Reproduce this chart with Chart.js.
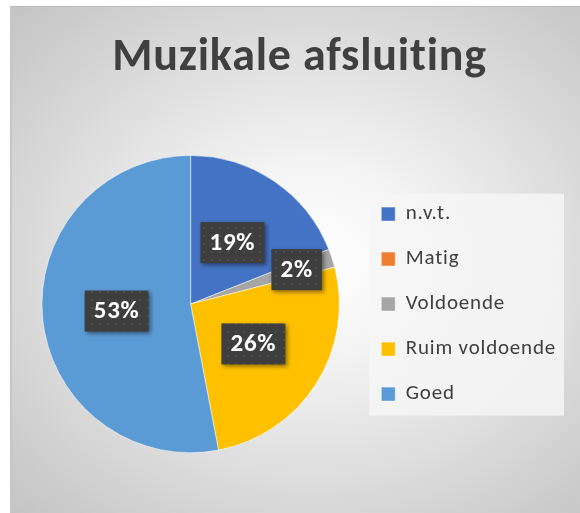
<!DOCTYPE html>
<html>
<head>
<meta charset="utf-8">
<script src="https://cdn.jsdelivr.net/npm/chart.js@4.4.1/dist/chart.umd.min.js"></script>
<style>
  html, body { margin: 0; padding: 0; background: #fff; overflow: hidden; }
  #wrap { position: relative; width: 580px; height: 513px; }
  #panel {
    position: absolute; left: 10px; top: 6px; width: 580px; height: 507px;
    box-sizing: border-box;
    border-top: 1px solid #bdbdbd; border-left: 2px solid #c6c6c6;
    background: radial-gradient(ellipse farthest-corner at 52% 50%, #ffffff 0%, #f5f5f5 25%, #d2d2d2 78%, #c4c4c4 100%);
  }
  #chart { position: absolute; left: 0; top: 0; }
</style>
</head>
<body>
<div id="wrap">
  <div id="panel"></div>
  <canvas id="chart" width="580" height="513"></canvas>
</div>
<script>
const chartTitle = 'Muzikale afsluiting';
const categories = ['n.v.t.', 'Matig', 'Voldoende', 'Ruim voldoende', 'Goed'];
const values = [19, 0, 2, 26, 53];
const colors = ['#4472C4', '#ED7D31', '#A5A5A5', '#FFC000', '#5B9BD5'];

const textColor = '#404040';
const total = values.reduce((a, b) => a + b, 0);

// dark dotted fill like the Excel label boxes
function labelPattern(ctx) {
    const c = document.createElement('canvas');
    c.width = 8; c.height = 8;
    const p = c.getContext('2d');
    p.fillStyle = '#3e3e3e';
    p.fillRect(0, 0, 8, 8);
    p.fillStyle = '#4c4c4c';
    p.fillRect(3, 3, 2, 2);
    return ctx.createPattern(c, 'repeat');
}

// a bit of letter spacing, as in the original (also stops the "ti" ligature)
const spacing = {
    id: 'spacing',
    beforeLayout(chart) { chart.ctx.letterSpacing = '0.8px'; },
    beforeDraw(chart) { chart.ctx.letterSpacing = '0.8px'; }
};

// light box behind the legend
const legendPanel = {
    id: 'legendPanel',
    beforeDraw(chart) {
        const lg = chart.legend;
        if (!lg || !lg.legendHitBoxes.length) return;
        const hb = lg.legendHitBoxes;
        const last = hb[hb.length - 1];
        const ctx = chart.ctx;
        const x0 = hb[0].left - 12, y0 = hb[0].top - 10;
        ctx.save();
        ctx.fillStyle = 'rgba(246,246,246,0.85)';
        ctx.fillRect(x0, y0, lg.right - 2 - x0, last.top + last.height + 11 - y0);
        ctx.restore();
    }
};

// title sits a little right of the layout centre in the original
const titleShift = {
    id: 'titleShift',
    afterLayout(chart) {
        if (chart.titleBlock) chart.titleBlock.left += 9;
    }
};

// percentage labels in dark boxes
const pctLabels = {
    id: 'pctLabels',
    afterDatasetsDraw(chart, args, opts) {
        const ctx = chart.ctx;
        const meta = chart.getDatasetMeta(0);
        const fill = labelPattern(ctx);
        ctx.save();
        ctx.font = 'bold 25px Carlito, Calibri, sans-serif';
        ctx.textAlign = 'center';
        ctx.textBaseline = 'middle';
        meta.data.forEach((arc, i) => {
            const v = values[i];
            if (!v) return;
            const txt = Math.round(v / total * 100) + '%';
            const mid = (arc.startAngle + arc.endAngle) / 2;
            const r = arc.outerRadius * (opts.radius[i] || 0.5);
            const x = arc.x + Math.cos(mid) * r;
            const y = arc.y + Math.sin(mid) * r;
            const w = ctx.measureText(txt).width + 18;
            const h = 41;
            ctx.save();
            ctx.shadowColor = 'rgba(0,0,0,0.45)';
            ctx.shadowBlur = 4;
            ctx.shadowOffsetX = 2;
            ctx.shadowOffsetY = 2;
            ctx.fillStyle = fill;
            ctx.fillRect(x - w / 2, y - h / 2, w, h);
            ctx.restore();
            ctx.fillStyle = '#ffffff';
            ctx.fillText(txt, x, y + 1);
        });
        ctx.restore();
    }
};

new Chart(document.getElementById('chart'), {
    type: 'pie',
    data: {
        labels: categories,
        datasets: [{
            data: values,
            backgroundColor: colors,
            borderColor: '#ffffff',
            borderWidth: 0.5
        }]
    },
    options: {
        responsive: false,
        animation: false,
        devicePixelRatio: 1,
        layout: { padding: { left: 24, right: 14, top: 0, bottom: 60 } },
        plugins: {
            title: {
                display: true,
                text: chartTitle,
                color: textColor,
                font: { family: 'Carlito, Calibri, sans-serif', size: 46, weight: 'bold' },
                padding: { top: 31, bottom: 69 }
            },
            legend: {
                position: 'right',
                fullSize: false,
                labels: {
                    color: textColor,
                    font: { family: 'Carlito, Calibri, sans-serif', size: 21 },
                    boxWidth: 14,
                    boxHeight: 14,
                    padding: 24
                }
            },
            tooltip: { enabled: false },
            pctLabels: { radius: [0.5, 0.5, 0.75, 0.5, 0.5] }
        }
    },
    plugins: [spacing, legendPanel, titleShift, pctLabels]
});
</script>
</body>
</html>
